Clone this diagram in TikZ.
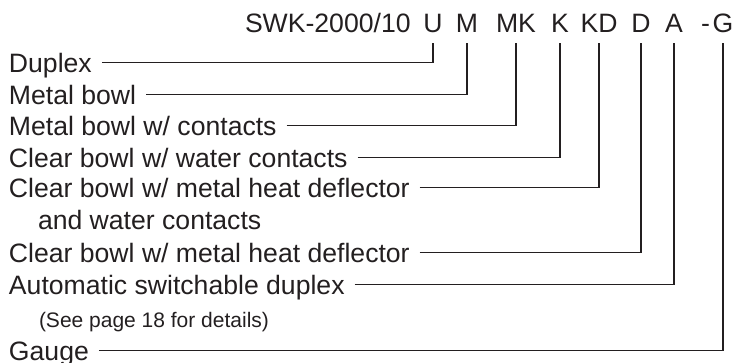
\documentclass[tikz,border=0pt]{standalone}
\usepackage{fontspec}
\setmainfont{Liberation Sans}
\definecolor{ink}{HTML}{231F20}

\begin{document}
\begin{tikzpicture}[x=1pt, y=-1pt,
  entry/.style={anchor=text, inner sep=0pt, outer xsep=10pt, text height=19pt, text depth=0pt, text=ink, font=\fontsize{26.6}{31}\selectfont},
  note/.style={anchor=text, inner sep=0pt, text=ink, font=\fontsize{21}{25}\selectfont},
  codepart/.style={anchor=base, inner sep=0pt, outer ysep=11pt, text depth=0pt, text=ink, font=\fontsize{26.6}{31}\selectfont},
  lead/.style={draw=ink, line width=1.6pt}]
\useasboundingbox (0,0) rectangle (735,362);
%\draw[help lines] (0,0) rectangle (735,362);
\node[codepart, anchor=text] (model) at (245,32) {SWK-2000/10};
\node[codepart] (u) at (433,32) {U};
\node[codepart] (m) at (467,32) {M};
\node[codepart] (mk) at (516,32) {MK};
\node[codepart] (k) at (560,32) {K};
\node[codepart] (kd) at (599,32) {KD};
\node[codepart] (d) at (641,32) {D};
\node[codepart] (a) at (674,32) {A};
\node[codepart] (dash) at (705.5,32) {-};
\node[codepart] (g) at (723,32) {G};

\node[entry] (duplex) at (9,72) {Duplex};
\node[entry] (metal) at (9,104) {Metal bowl};
\node[entry] (metalc) at (9,135) {Metal bowl w/ contacts};
\node[entry] (clearw) at (9,167) {Clear bowl w/ water contacts};
\node[entry] (clearhw) at (9,197) {Clear bowl w/ metal heat deflector};
\node[entry] (clearhw2) at (38,229.5) {and water contacts};
\node[entry] (clearh) at (9,262) {Clear bowl w/ metal heat deflector};
\node[entry] (auto) at (9,294) {Automatic switchable duplex};
\node[note] (autonote) at (39,327) {(See page 18 for details)};
\node[entry] (gauge) at (9,360) {Gauge};

\draw[lead] (duplex.east) -| (u.south);
\draw[lead] (metal.east) -| (m.south);
\draw[lead] (metalc.east) -| (mk.south);
\draw[lead] (clearw.east) -| (k.south);
\draw[lead] (clearhw.east) -| (kd.south);
\draw[lead] (clearh.east) -| (d.south);
\draw[lead] (auto.east) -| (a.south);
\draw[lead] (gauge.east) -| (g.south);
\end{tikzpicture}
\end{document}
